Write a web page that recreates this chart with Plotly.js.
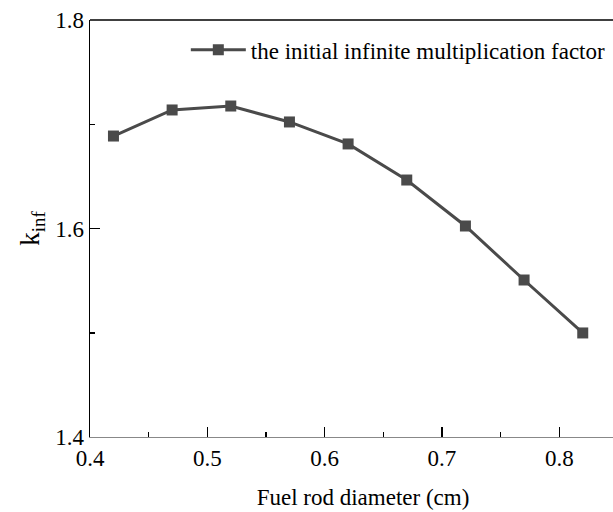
<!DOCTYPE html>
<html>
<head>
<meta charset="utf-8">
<script src="https://cdn.plot.ly/plotly-3.0.1.min.js"></script>
<style>html,body{margin:0;padding:0;background:#fff;overflow:hidden;}#chart{width:636px;height:512px;}</style>
</head>
<body>
<div id="chart"></div>
<script>
const diameters = [0.42, 0.47, 0.52, 0.57, 0.62, 0.67, 0.72, 0.77, 0.82];
const kinf = [1.6887, 1.7137, 1.7175, 1.7022, 1.6811, 1.6465, 1.6024, 1.5506, 1.4998];
const seriesName = "the initial infinite multiplication factor";
const xTickVals = [0.4, 0.5, 0.6, 0.7, 0.8];
const xTickText = ["0.4", "0.5", "0.6", "0.7", "0.8"];
const yTickVals = [1.4, 1.6, 1.8];
const yTickText = ["1.4", "1.6", "1.8"];

const font = "Liberation Serif, Times New Roman, serif";
const trace = {
  x: diameters, y: kinf, name: seriesName, type: "scatter", mode: "lines+markers",
  line: {color: "#4a4a4a", width: 3},
  marker: {symbol: "square", size: 11, color: "#4a4a4a"}
};
const layout = {
  width: 636, height: 512,
  margin: {l: 90, r: 0, t: 20, b: 75},
  paper_bgcolor: "#fff", plot_bgcolor: "#fff",
  font: {family: font, color: "#000", size: 23},
  showlegend: true,
  legend: {x: 0.1755, y: 0.98, xanchor: "left", yanchor: "top", itemwidth: 55, bgcolor: "rgba(0,0,0,0)", font: {family: font, size: 23, color: "#000"}},
  xaxis: {
    range: [0.4, 0.8654], showgrid: false, zeroline: false,
    showline: true, linecolor: "#888", linewidth: 1,
    ticks: "inside", ticklen: 10, tickwidth: 1.5, tickcolor: "#000",
    tickvals: xTickVals, ticktext: xTickText,
    tickfont: {family: font, size: 23, color: "#000"},
    minor: {dtick: 0.05, tick0: 0.4, ticks: "inside", ticklen: 5, tickwidth: 1.5, tickcolor: "#000", showgrid: false},
    title: {text: "Fuel rod diameter (cm)", font: {family: font, size: 23, color: "#000"}, standoff: 19}
  },
  yaxis: {
    range: [1.4, 1.8], showgrid: false, zeroline: false,
    showline: true, linecolor: "#000", linewidth: 1.5,
    ticks: "inside", ticklen: 10, tickwidth: 1.5, tickcolor: "#000",
    tickvals: yTickVals, ticktext: yTickText,
    tickfont: {family: font, size: 23, color: "#000"},
    minor: {dtick: 0.1, tick0: 1.4, ticks: "inside", ticklen: 5, tickwidth: 1.5, tickcolor: "#000", showgrid: false},
    title: {text: "k<sub>inf</sub>", font: {family: font, size: 27, color: "#000"}, standoff: 7}
  },
  shapes: [{type: "line", xref: "paper", yref: "paper", x0: 0, x1: 1, y0: 1, y1: 1, line: {color: "#000", width: 1.5}}]
};
Plotly.newPlot("chart", [trace], layout, {displayModeBar: false, staticPlot: true});
</script>
</body>
</html>
